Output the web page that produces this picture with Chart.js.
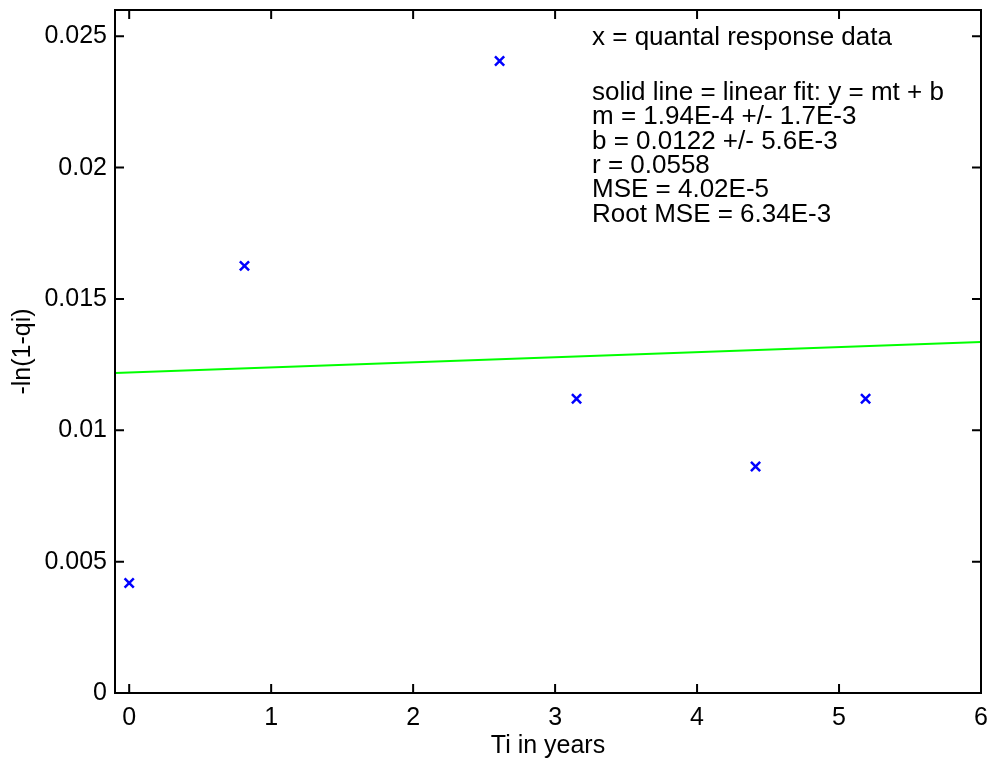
<!DOCTYPE html>
<html>
<head>
<meta charset="utf-8">
<title>Quantal response fit</title>
<script src="https://cdn.jsdelivr.net/npm/chart.js@4.4.1/dist/chart.umd.min.js"></script>
<style>
  body { margin: 0; background: #fff; }
  #chart { display: block; }
</style>
</head>
<body>
<canvas id="chart" width="990" height="762"></canvas>
<script>
// data
const timeYears = [0, 0.812, 2.609, 3.151, 4.412, 5.187];
const lnValues = [0.00419, 0.01626, 0.02406, 0.0112, 0.00862, 0.0112];

// ends of the fitted line y = mt + b, read at the plot edges
const fitT = [-0.1, 6];
const fitY = [0.01218, 0.01336];

const xTicks = [0, 1, 2, 3, 4, 5, 6];
const yTicks = [0, 0.005, 0.01, 0.015, 0.02, 0.025];

const noteLines = [
  "x = quantal response data",
  "solid line = linear fit: y = mt + b",
  "m = 1.94E-4 +/- 1.7E-3",
  "b = 0.0122 +/- 5.6E-3",
  "r = 0.0558",
  "MSE = 4.02E-5",
  "Root MSE = 6.34E-3"
];

const FONT = "'Liberation Sans', Arial, Helvetica, sans-serif";

// Start of frame plugin - box with inward ticks on all four sides
const framePlugin = {
  id: "frame",
  afterDraw(chart) {
    const ctx = chart.ctx;
    const a = chart.chartArea;
    const xs = chart.scales.x;
    const ys = chart.scales.y;
    const len = 9;
    ctx.save();
    ctx.strokeStyle = "#000";
    ctx.lineWidth = 2;
    ctx.strokeRect(a.left, a.top, a.right - a.left, a.bottom - a.top);
    ctx.beginPath();
    xTicks.forEach(v => {
      const px = xs.getPixelForValue(v);
      ctx.moveTo(px, a.bottom);
      ctx.lineTo(px, a.bottom - len);
      ctx.moveTo(px, a.top);
      ctx.lineTo(px, a.top + len);
    });
    yTicks.forEach(v => {
      const py = ys.getPixelForValue(v);
      ctx.moveTo(a.left, py);
      ctx.lineTo(a.left + len, py);
      ctx.moveTo(a.right, py);
      ctx.lineTo(a.right - len, py);
    });
    ctx.stroke();
    ctx.restore();
  }
};
// End of frame plugin

// Start of note plugin - text block in the upper right
const notePlugin = {
  id: "note",
  afterDraw(chart) {
    const ctx = chart.ctx;
    ctx.save();
    ctx.fillStyle = "#000";
    ctx.font = "26px " + FONT;
    ctx.textBaseline = "alphabetic";
    ctx.textAlign = "left";
    const x = 592;
    ctx.fillText(noteLines[0], x, 45);
    for (let i = 1; i < noteLines.length; i++) {
      ctx.fillText(noteLines[i], x, 100 + (i - 1) * 24.3);
    }
    ctx.restore();
  }
};
// End of note plugin

const ctx = document.getElementById("chart").getContext("2d");
new Chart(ctx, {
  type: "scatter",
  data: {
    datasets: [
      {
        label: "linear fit",
        data: fitT.map((t, i) => ({ x: t, y: fitY[i] })),
        showLine: true,
        borderColor: "#00ff00",
        borderWidth: 2,
        pointRadius: 0,
        fill: false,
      },
      {
        label: "quantal response data",
        data: timeYears.map((t, i) => ({ x: t, y: lnValues[i] })),
        pointStyle: "crossRot",
        pointRadius: 6.5,
        borderColor: "#0000ff",
        backgroundColor: "#0000ff",
        pointBorderWidth: 2.5,
      },
    ],
  },
  options: {
    responsive: false,
    animation: false,
    layout: { padding: { top: 10, right: 8, left: 0, bottom: 0 } },
    plugins: {
      legend: { display: false },
      tooltip: { enabled: false },
    },
    scales: {
      x: {
        type: "linear",
        min: -0.1,
        max: 6,
        afterBuildTicks: scale => { scale.ticks = xTicks.map(v => ({ value: v })); },
        afterFit: scale => {
          scale.height = 69;
          scale.paddingLeft = 0;
          scale.paddingRight = 0;
        },
        grid: { display: false, drawTicks: false },
        border: { display: false },
        ticks: {
          color: "#000",
          padding: 10,
          maxRotation: 0,
          font: { family: FONT, size: 25 },
          callback: v => String(v),
        },
        title: {
          display: true,
          text: "Ti in years",
          color: "#000",
          font: { family: FONT, size: 25 },
          padding: { top: 0, bottom: 1 },
        },
      },
      y: {
        type: "linear",
        min: 0,
        max: 0.026,
        afterBuildTicks: scale => { scale.ticks = yTicks.map(v => ({ value: v })); },
        afterFit: scale => {
          scale.width = 115;
          scale.paddingTop = 0;
          scale.paddingBottom = 0;
        },
        grid: { display: false, drawTicks: false },
        border: { display: false },
        ticks: {
          color: "#000",
          padding: 8,
          font: { family: FONT, size: 25 },
          callback: v => String(parseFloat(v.toFixed(4))),
        },
        title: {
          display: true,
          text: "-ln(1-qi)",
          color: "#000",
          font: { family: FONT, size: 25 },
          padding: { top: 8, bottom: 0 },
        },
      },
    },
  },
  plugins: [framePlugin, notePlugin],
});
</script>
</body>
</html>
